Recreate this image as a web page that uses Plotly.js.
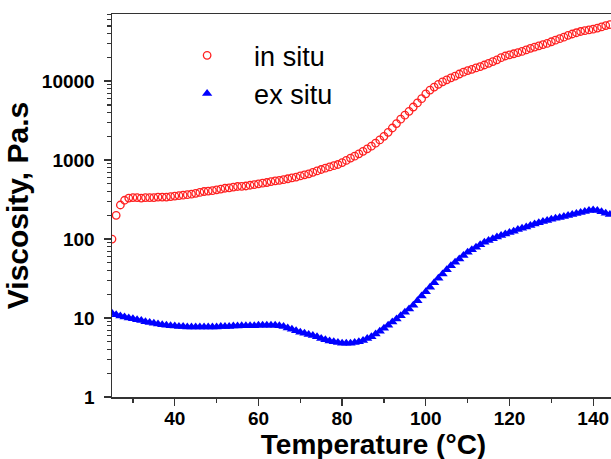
<!DOCTYPE html>
<html>
<head>
<meta charset="utf-8">
<script src="https://cdn.plot.ly/plotly-3.0.1.min.js"></script>
<style>
  html, body { margin: 0; padding: 0; background: #fff; overflow: hidden; width: 611px; height: 459px; }
  #chart { width: 650px; height: 472px; }
</style>
</head>
<body>
<div id="chart"></div>
<script>
// Temperature (°C)
const temperature = [25,26,27,28,29,30,31,32,33,34,35,36,37,38,39,40,41,42,43,44,45,46,47,48,49,50,51,52,53,54,55,56,57,58,59,60,61,62,63,64,65,66,67,68,69,70,71,72,73,74,75,76,77,78,79,80,81,82,83,84,85,86,87,88,89,90,91,92,93,94,95,96,97,98,99,100,101,102,103,104,105,106,107,108,109,110,111,112,113,114,115,116,117,118,119,120,121,122,123,124,125,126,127,128,129,130,131,132,133,134,135,136,137,138,139,140,141,142,143,144];

// Viscosity, Pa.s — in situ
const inSitu = [100,200,270,310,330,335,335,330,335,335,335,340,340,340,345,350,355,360,365,370,380,390,400,405,410,420,430,440,445,455,463,465,470,480,490,500,510,520,535,545,555,565,580,595,610,630,650,670,700,730,760,790,820,850,880,930,990,1060,1120,1200,1290,1390,1500,1640,1800,2000,2250,2550,2900,3300,3700,4150,4700,5300,6000,6900,7700,8400,9100,9800,10400,11000,11600,12300,13000,13600,14100,14700,15300,16000,16800,17700,18600,19800,20800,21500,22200,23000,23800,24800,26000,27000,28000,29000,30000,31500,33000,34500,36000,38000,39500,41000,42500,43500,44500,45500,47000,48500,50500,52000];

// Viscosity, Pa.s — ex situ
const exSitu = [11.5,11.0,10.6,10.3,10.0,9.8,9.5,9.3,9.0,8.8,8.6,8.4,8.2,8.1,8.0,7.9,7.8,7.8,7.7,7.7,7.7,7.7,7.7,7.7,7.7,7.7,7.8,7.8,7.8,7.9,7.9,8.0,8.0,8.0,8.0,8.1,8.1,8.1,8.1,8.1,8.0,7.8,7.5,7.2,6.9,6.6,6.4,6.2,6.0,5.8,5.5,5.3,5.1,5.0,4.9,4.8,4.8,4.8,4.9,5.0,5.2,5.5,5.8,6.3,6.8,7.4,8.1,8.9,9.7,10.7,11.8,13.0,14.5,16.5,19.0,21.5,24.5,28,32,36,41,46,51,56,62,68,73,79,85,91,96,101,106,111,116,121,126,132,137,142,148,155,161,167,172,178,183,188,193,199,205,211,217,224,230,234,230,222,212,205];

const seriesNames = ["in situ", "ex situ"];
const xTickVals = [40, 60, 80, 100, 120, 140];
const yTickVals = [1, 10, 100, 1000, 10000];
const yTickText = ["1", "10", "100", "1000", "10000"];

const yMinor = [];
for (let d = 1; d <= 10000; d *= 10) {
  for (let k = 2; k <= 9; k++) yMinor.push(k * d);
}

const traces = [
  {
    x: temperature, y: inSitu, name: seriesNames[0],
    type: "scatter", mode: "markers",
    marker: { symbol: "circle-open", size: 7.5, color: "#ff2020", line: { width: 1.3, color: "#ff2020" } }
  },
  {
    x: temperature, y: exSitu, name: seriesNames[1],
    type: "scatter", mode: "markers",
    marker: { symbol: "triangle-up", size: 9, color: "#0000ff" }
  }
];

const axisFont = { family: "Liberation Sans, Arial, sans-serif", size: 19, color: "#000" };
const titleFont = { family: "Liberation Sans, Arial, sans-serif", size: 30, color: "#000", weight: "bold" };

const layout = {
  width: 650, height: 472,
  margin: { l: 112, r: 15, t: 14, b: 75 },
  paper_bgcolor: "#fff", plot_bgcolor: "#fff",
  showlegend: true,
  legend: {
    x: 0.092, y: 0.955, xanchor: "left", yanchor: "top",
    font: { family: "Liberation Sans, Arial, sans-serif", size: 27, color: "#000" },
    bgcolor: "rgba(0,0,0,0)", itemwidth: 84, tracegroupgap: 0
  },
  xaxis: {
    range: [25, 150], type: "linear",
    tickmode: "array", tickvals: xTickVals,
    ticks: "outside", ticklen: 7, tickwidth: 1.3, tickcolor: "#333",
    tickfont: Object.assign({}, axisFont, { weight: "bold" }),
    ticklabelstandoff: -3,
    showline: true, linecolor: "#333", linewidth: 1.5, mirror: true,
    showgrid: false, zeroline: false,
    minor: { tickmode: "array", tickvals: [30, 50, 70, 90, 110, 130, 150], ticks: "outside", ticklen: 4, tickwidth: 1.2, tickcolor: "#333", showgrid: false },
    title: { text: "Temperature (°C)", font: Object.assign({}, titleFont, { size: 28 }), standoff: 0 }
  },
  yaxis: {
    type: "log", range: [0, 4.85],
    tickmode: "array", tickvals: yTickVals, ticktext: yTickText,
    ticks: "outside", ticklen: 7, tickwidth: 1.3, tickcolor: "#333",
    tickfont: Object.assign({}, axisFont, { weight: "bold" }),
    ticklabelstandoff: 5,
    showline: true, linecolor: "#333", linewidth: 1.5, mirror: true,
    showgrid: false, zeroline: false,
    minor: { tickmode: "array", tickvals: yMinor, ticks: "outside", ticklen: 4, tickwidth: 1.2, tickcolor: "#333", showgrid: false },
    title: { text: "Viscosity, Pa.s", font: titleFont, standoff: 4 }
  }
};

Plotly.newPlot("chart", traces, layout, { displayModeBar: false, staticPlot: true });
</script>
</body>
</html>
